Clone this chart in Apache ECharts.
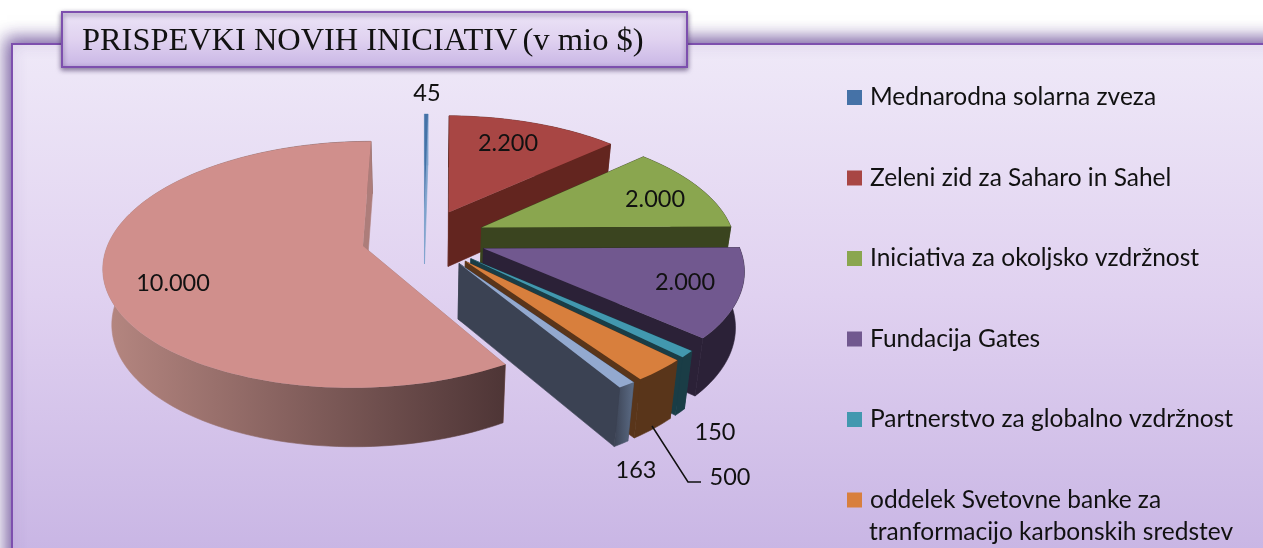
<!DOCTYPE html>
<html>
<head>
<meta charset="utf-8">
<style>html,body{margin:0;padding:0;background:#fff}#chart{width:1263px;height:548px}</style>
<script src="https://cdn.jsdelivr.net/npm/echarts@6/dist/echarts.min.js"></script>
</head>
<body>
<div id="chart"></div>
<script>
// values, in mio $
const categories = [
  "Mednarodna solarna zveza",
  "Zeleni zid za Saharo in Sahel",
  "Iniciativa za okoljsko vzdržnost",
  "Fundacija Gates",
  "Partnerstvo za globalno vzdržnost",
  "oddelek Svetovne banke za\ntranformacijo karbonskih sredstev",
  "(7)",
  "(8)"
];
const values = [45, 2200, 2000, 2000, 150, 500, 163, 10000];
const valueLabels = ["45", "2.200", "2.000", "2.000", "150", "500", "163", "10.000"];

const topColors = ["#4572a7", "#a84644", "#8aa64f", "#71588f", "#4298af", "#d87f3d", "#93a9cf", "#d08f8c"];
const wallColors = ["#7fa3cc", "#63251f", "#3a441f", "#2b2137", "#1a3d46", "#59351a", "#3b4253", "#ad7d7a"];
const outerWallLeft = ["#7fa3cc", "#63251f", "#3a441f", "#2b2137", "#1a3d46", "#59351a", "#3b4253", "#b68781"];
const outerWallRight = ["#7fa3cc", "#63251f", "#3a441f", "#2b2137", "#1a3d46", "#59351a", "#5c6c86", "#4e3536"];
const labelAnchors = [[427, 93], [508, 143], [655, 199], [685, 282], [715, 432], [730, 477], [636, 470], [173, 283]];
const leaderLine = [[652, 426], [688, 482], [701, 482]];

// perspective pie
const cx = 424, cy = 238, scaleX = 253, scaleY = 118, persp = 0.15, depth = 55, explode = 0.248, shrink = 0.972;
const font = "Lato";
const total = values.reduce((a, b) => a + b, 0);

function project(x, z, down) {
  const w = 1 - persp * z;
  const px = cx + scaleX * x / w;
  const py = cy + scaleY * z / w;
  if (!down) return [px, py];
  return [cx + (px - cx) * shrink, py + depth * Math.pow(1 / w, 0.4)];
}

function renderSlice(index) {
  let before = 0;
  for (let i = 0; i < index; i++) before += values[i];
  const a0 = before / total * Math.PI * 2;
  const a1 = (before + values[index]) / total * Math.PI * 2;
  const mid = (a0 + a1) / 2;
  const ox = Math.sin(mid) * explode, oz = -Math.cos(mid) * explode;

  const steps = Math.max(2, Math.ceil((a1 - a0) / 0.03));
  const arcTop = [], arcBottom = [];
  for (let i = 0; i <= steps; i++) {
    const a = a0 + (a1 - a0) * i / steps;
    arcTop.push(project(ox + Math.sin(a), oz - Math.cos(a), false));
    arcBottom.push(project(ox + Math.sin(a), oz - Math.cos(a), true));
  }
  const apexTop = project(ox, oz, false), apexBottom = project(ox, oz, true);
  const last = arcTop.length - 1;
  const poly = (points, fill, seam) => ({
    type: "polygon",
    shape: { points: points },
    style: { fill: fill, stroke: seam ? fill : null, lineWidth: seam ? 0.6 : 0 }
  });

  const outerFill = new echarts.graphic.LinearGradient(0, 0, 1, 0, [
    { offset: 0, color: outerWallLeft[index] },
    { offset: 1, color: outerWallRight[index] }
  ]);
  return {
    type: "group",
    children: [
      poly([apexTop, arcTop[0], arcBottom[0], apexBottom], wallColors[index], true),
      poly(arcTop.concat(arcBottom.slice().reverse()), outerFill, true),
      poly([apexTop, arcTop[last], arcBottom[last], apexBottom], wallColors[index], true),
      poly([apexTop].concat(arcTop), topColors[index], false),
      {
        type: "text",
        style: {
          text: valueLabels[index],
          x: labelAnchors[index][0],
          y: labelAnchors[index][1],
          align: "center",
          verticalAlign: "middle",
          fill: "#111",
          font: "23.5px " + font
        }
      }
    ]
  };
}

const chart = echarts.init(document.getElementById("chart"), null, { renderer: "canvas" });

const panelFill = new echarts.graphic.LinearGradient(0, 0, 0, 1, [
  { offset: 0, color: "#efe9f8" },
  { offset: 0.45, color: "#e0d1f0" },
  { offset: 1, color: "#c4b0e2" }
]);
const titleFill = new echarts.graphic.LinearGradient(0, 0, 0, 1, [
  { offset: 0, color: "#ece5f7" },
  { offset: 0.5, color: "#e0d2f0" },
  { offset: 1, color: "#c8b5e5" }
]);

const option = {
  animation: false,
  title: {
    left: 77,
    top: 20,
    text: "{a|PRISPEVKI NOVIH INICIATIV} {b|(v mio $)}",
    textStyle: {
      rich: {
        a: { fontFamily: "Liberation Serif", fontSize: 32.4, fontWeight: "normal", color: "#111" },
        b: { fontFamily: "Liberation Serif", fontSize: 32.6, fontWeight: "normal", color: "#111" }
      }
    }
  },
  legend: {
    orient: "vertical",
    left: 842,
    top: 80,
    itemWidth: 15,
    itemHeight: 15,
    itemGap: 55.5,
    data: categories.slice(0, 6),
    icon: "rect",
    selectedMode: false,
    formatter: (name) => name.split("\n")[0],
    textStyle: { fontFamily: font, fontSize: 24.5, color: "#111", lineHeight: 24, padding: [0, 0, 0, 3] }
  },
  graphic: [
    {
      type: "rect", z: -2,
      shape: { x: 12, y: 44, width: 1300, height: 560 },
      style: { fill: panelFill, stroke: "#7d4fae", lineWidth: 2, shadowBlur: 16, shadowColor: "rgba(95,65,145,0.85)", shadowOffsetX: -5, shadowOffsetY: -5 }
    },
    {
      type: "rect", z: -1,
      shape: { x: 62, y: 12, width: 625, height: 55 },
      style: { fill: titleFill, stroke: "#7d4fae", lineWidth: 2, shadowBlur: 5, shadowColor: "rgba(60,40,90,0.6)", shadowOffsetY: 2 }
    },
    {
      type: "text", z: 5,
      style: { text: categories[5].split("\n")[1], x: 869, y: 532, verticalAlign: "middle", fill: "#111", font: "24.5px " + font }
    },
    {
      type: "polyline", z: 5,
      shape: { points: leaderLine },
      style: { stroke: "#111", fill: null, lineWidth: 1.5 }
    }
  ],
  series: values.map((v, i) => ({
    type: "custom",
    name: categories[i],
    coordinateSystem: "none",
    itemStyle: { color: topColors[i] },
    data: [v],
    renderItem: () => renderSlice(i)
  }))
};
chart.setOption(option);
</script>
</body>
</html>
